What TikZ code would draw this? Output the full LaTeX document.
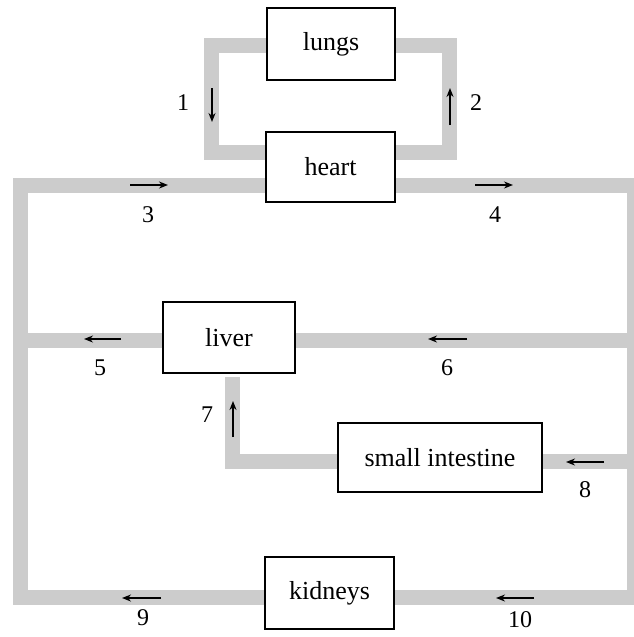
\documentclass[tikz,border=0pt]{standalone}
\usepackage{fontspec}
\setmainfont{Liberation Serif}
\usetikzlibrary{arrows.meta}
\begin{document}
\begin{tikzpicture}[x=1pt,y=-1pt,
  vessel/.style={line width=15pt,draw=black!20,line cap=butt,line join=miter},
  organ/.style={draw=black,line width=1.8pt,fill=white,inner sep=0pt,
    font=\fontsize{26}{30}\selectfont},
  flow/.style={line width=1.5pt,-{Stealth[length=9pt,width=7pt]}},
  num/.style={inner sep=0pt,font=\fontsize{24}{28}\selectfont}]
\useasboundingbox (0,0) rectangle (633,637);
% organs
\node[organ,minimum width=128pt,minimum height=72pt] (lungs) at (331,44) {lungs};
\node[organ,minimum width=129pt,minimum height=70pt] (heart) at (330.5,167) {heart};
\node[organ,minimum width=132pt,minimum height=71pt] (liver) at (229,337.5) {liver};
\node[organ,minimum width=204pt,minimum height=69pt] (intestine) at (440,457.5) {small intestine};
\node[organ,minimum width=129pt,minimum height=72pt] (kidneys) at (329.5,593) {kidneys};
% corner coordinates
\coordinate (tl) at (211,45);
\coordinate (bl) at (211,152);
\coordinate (tr) at (449,45);
\coordinate (br) at (449,152);
\coordinate (ml) at (20,185);
\coordinate (mr) at (634,185);
\coordinate (kl) at (20,597);
\coordinate (kr) at (634,597);
\coordinate (lvl) at (20,340);
\coordinate (lvr) at (634,340);
\coordinate (sir) at (634,461);
\coordinate (sic) at (232,461);
\coordinate (sit) at (232,377);
% vessels
\draw[vessel] (lungs.west |- tl) -- (tl) -- (bl) -- (bl -| heart.west);
\draw[vessel] (lungs.east |- tr) -- (tr) -- (br) -- (br -| heart.east);
\draw[vessel] (heart.east |- mr) -- (mr) -- (kr) -- (kr -| kidneys.east);
\draw[vessel] (kidneys.west |- kl) -- (kl) -- (ml) -- (ml -| heart.west);
\draw[vessel] (liver.west |- lvl) -- (lvl);
\draw[vessel] (liver.east |- lvr) -- (lvr);
\draw[vessel] (sir) -- (sir -| intestine.east);
\draw[vessel] (intestine.west |- sic) -- (sic) -- (sit);
% flow arrows
\coordinate (a1s) at (212,88);  \coordinate (a1e) at (212,122);
\coordinate (a2s) at (450,125); \coordinate (a2e) at (450,88);
\coordinate (a3s) at (130,185); \coordinate (a3e) at (168,185);
\coordinate (a4s) at (475,185); \coordinate (a4e) at (513,185);
\coordinate (a5s) at (121,339); \coordinate (a5e) at (84,339);
\coordinate (a6s) at (467,339); \coordinate (a6e) at (428,339);
\coordinate (a7s) at (233,437); \coordinate (a7e) at (233,401);
\coordinate (a8s) at (604,462); \coordinate (a8e) at (566,462);
\coordinate (a9s) at (161,598); \coordinate (a9e) at (122,598);
\coordinate (a10s) at (534,598); \coordinate (a10e) at (496,598);
\draw[flow] (a1s) -- (a1e);
\draw[flow] (a2s) -- (a2e);
\draw[flow] (a3s) -- (a3e);
\draw[flow] (a4s) -- (a4e);
\draw[flow] (a5s) -- (a5e);
\draw[flow] (a6s) -- (a6e);
\draw[flow] (a7s) -- (a7e);
\draw[flow] (a8s) -- (a8e);
\draw[flow] (a9s) -- (a9e);
\draw[flow] (a10s) -- (a10e);
% labels
\node[num] (n1) at (183,103) {1};
\node[num] (n2) at (476,103) {2};
\node[num] (n3) at (148,215) {3};
\node[num] (n4) at (495,215) {4};
\node[num] (n5) at (100,368) {5};
\node[num] (n6) at (447,368) {6};
\node[num] (n7) at (207,415) {7};
\node[num] (n8) at (585,490) {8};
\node[num] (n9) at (143,618) {9};
\node[num] (n10) at (520,620) {10};
\end{tikzpicture}
\end{document}
